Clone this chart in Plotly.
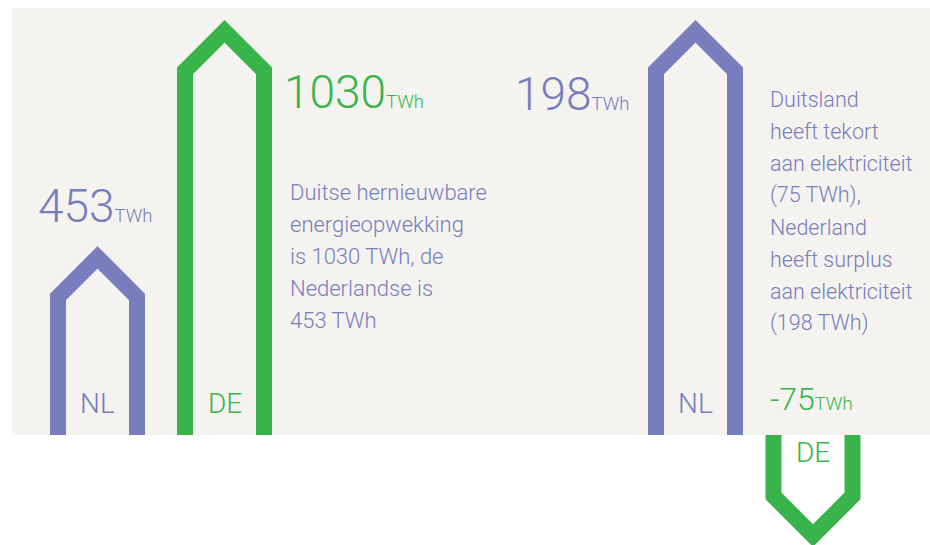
import plotly.graph_objects as go

# ---------------- data ----------------
left_countries = ["NL", "DE"]
left_production_twh = [453, 1030]
right_countries = ["NL", "DE"]
right_balance_twh = [198, -75]
unit = "TWh"
left_note = ["Duitse hernieuwbare", "energieopwekking", "is 1030 TWh, de",
             "Nederlandse is", "453 TWh"]
right_note = ["Duitsland", "heeft tekort", "aan elektriciteit", "(75 TWh),",
              "Nederland", "heeft surplus", "aan elektriciteit", "(198 TWh)"]

# ---------------- layout / style ----------------
OFF = 0          # page body margin is removed below
W, H = 930, 545
PURPLE = "#787dbd"
GREEN = "#38b44a"
BG = "#f4f3ef"
COLORS = {"NL": PURPLE, "DE": GREEN}
FONT = "Roboto, 'Liberation Sans', Arial, sans-serif"
WEIGHT = 300

BASE_PX = 435    # screen pixel of the zero line
left_x = [97.5, 224.5]
right_x = [695.5, 813]
# pixels per TWh for each panel (infographic, not to a common scale)
K_LEFT = 0.39194
K_NL = 2.0389
K_DE = 1.34
HALF_W = 39.5   # px, centre line half width of the arrow
STROKE = 16


def yrange(k):
    zero = BASE_PX - OFF
    return [-(H - zero) / k, zero / k]


Y_LEFT, Y_NL, Y_DE = yrange(K_LEFT), yrange(K_NL), yrange(K_DE)

fig = go.Figure()


def arrow(xc, v, k, yaxis, color):
    dy = HALF_W / k
    s = 1 if v > 0 else -1
    xs = [xc - HALF_W, xc - HALF_W, xc, xc + HALF_W, xc + HALF_W]
    ys = [0, v - s * dy, v, v - s * dy, 0]
    fig.add_trace(go.Scatter(x=xs, y=ys, mode="lines", yaxis=yaxis,
                             line=dict(color=color, width=STROKE),
                             hoverinfo="skip", showlegend=False))


for c, v, xc in zip(left_countries, left_production_twh, left_x):
    arrow(xc, v, K_LEFT, "y", COLORS[c])
arrow(right_x[0], right_balance_twh[0], K_NL, "y2", COLORS[right_countries[0]])
arrow(right_x[1], right_balance_twh[1], K_DE, "y3", COLORS[right_countries[1]])

anns = []


def ann(x, baseline, text, size, color, xanchor="left"):
    ypx = baseline + 1 + 0.244 * size - OFF
    anns.append(dict(x=x, xref="x", y=1 - ypx / H, yref="paper", text=text,
                     showarrow=False, xanchor=xanchor, yanchor="bottom",
                     align="left",
                     font=dict(family=FONT, size=size, color=color, weight=WEIGHT)))


def value_label(v, small):
    return f"{v}<span style='font-size:{small}px'>{unit}</span>"


# value labels
ann(36, 223, value_label(left_production_twh[0], 18.5), 46, PURPLE)
ann(282, 109, value_label(left_production_twh[1], 18.5), 46, GREEN)
ann(513, 111, value_label(right_balance_twh[0], 18.5), 46, PURPLE)
ann(768, 411.5, value_label(right_balance_twh[1], 18.5), 32, GREEN)

# country labels
ann(left_x[0], 414, left_countries[0], 28, PURPLE, "center")
ann(left_x[1], 414, left_countries[1], 28, GREEN, "center")
ann(right_x[0], 414, right_countries[0], 28, PURPLE, "center")
ann(right_x[1], 463, right_countries[1], 28, GREEN, "center")

# notes
for i, line in enumerate(left_note):
    ann(288, 200.5 + 32 * i, line, 22, PURPLE)
for i, line in enumerate(right_note):
    ann(768, 107.5 + 32 * i, line, 21.5, PURPLE)

fig.update_layout(
    width=W, height=H, margin=dict(l=0, r=0, t=0, b=0),
    paper_bgcolor="white", plot_bgcolor="rgba(0,0,0,0)",
    showlegend=False, annotations=anns,
    shapes=[dict(type="rect", xref="x", yref="paper", x0=12, x1=W + OFF,
                 y0=1 - (435 - OFF) / H, y1=1 - (8 - OFF) / H, fillcolor=BG,
                 line=dict(width=0), layer="below")],
    xaxis=dict(range=[OFF, W + OFF], visible=False, fixedrange=True),
    yaxis=dict(range=Y_LEFT, visible=False, fixedrange=True),
    yaxis2=dict(range=Y_NL, visible=False, overlaying="y", fixedrange=True),
    yaxis3=dict(range=Y_DE, visible=False, overlaying="y", fixedrange=True),
)

fig.write_html("out.html",
               config={"displayModeBar": False, "staticPlot": True},
               post_script="document.body.style.margin='0px';"
                           "document.body.style.overflow='hidden';")
